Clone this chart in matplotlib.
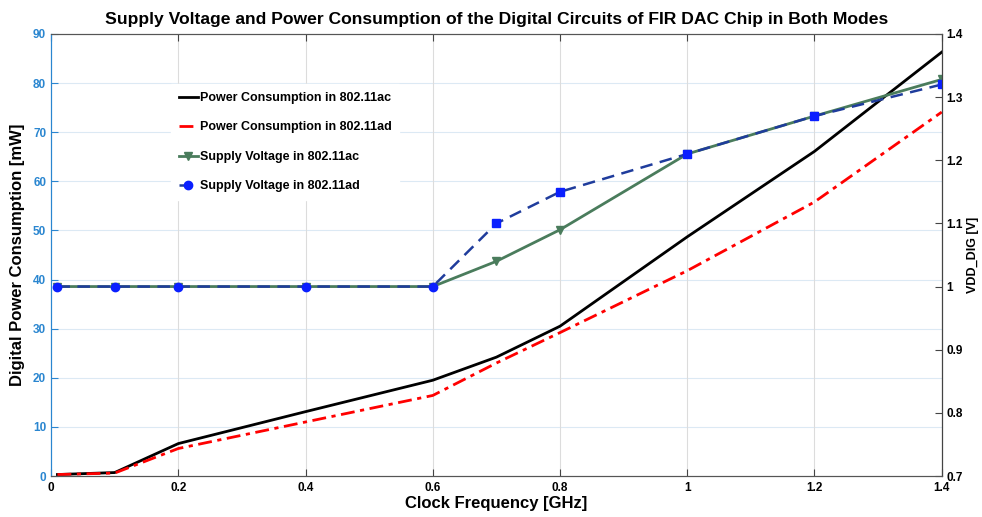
import matplotlib.pyplot as plt

# clock frequency points [GHz]
freq = [0.01, 0.1, 0.2, 0.4, 0.6, 0.7, 0.8, 1.0, 1.2, 1.4]

# digital power consumption [mW]
power_ac = [0.3, 0.7, 6.6, 13.1, 19.5, 24.2, 30.5, 48.7, 66.1, 86.3]
power_ad = [0.3, 0.6, 5.6, 11.0, 16.4, 23.0, 29.2, 41.8, 55.8, 74.1]

# supply voltage VDD_DIG [V]
vdd_ac = [1.0, 1.0, 1.0, 1.0, 1.0, 1.04, 1.09, 1.21, 1.27, 1.328]
vdd_ad = [1.0, 1.0, 1.0, 1.0, 1.0, 1.10, 1.15, 1.21, 1.27, 1.32]

xticks = [0, 0.2, 0.4, 0.6, 0.8, 1.0, 1.2, 1.4]
xtick_labels = ["0", "0.2", "0.4", "0.6", "0.8", "1", "1.2", "1.4"]
left_ticks = list(range(0, 91, 10))
right_ticks = [0.7, 0.8, 0.9, 1.0, 1.1, 1.2, 1.3, 1.4]
right_labels = ["0.7", "0.8", "0.9", "1", "1.1", "1.2", "1.3", "1.4"]

plt.rcParams["font.family"] = ["Liberation Sans", "DejaVu Sans"]
plt.rcParams["font.weight"] = "bold"

left_col = "#2a86d0"
green = "#4a7c5c"

fig = plt.figure(figsize=(9.82, 5.17), dpi=100)
ax = fig.add_axes([0.052, 0.0793, 0.907, 0.855])
ax2 = ax.twinx()

# power curves on the left axis
l1, = ax.plot(freq, power_ac, color="black", lw=2.0,
              label="Power Consumption in 802.11ac")
l2, = ax.plot(freq, power_ad, color="red", lw=2.0, ls=(0, (5, 2, 1.5, 2)),
              label="Power Consumption in 802.11ad")

# voltage curves on the right axis
l3, = ax2.plot(freq, vdd_ac, color=green, lw=2.0, marker="v", ms=6,
               mfc=green, mec=green, label="Supply Voltage in 802.11ac")
l4, = ax2.plot(freq, vdd_ad, color="#1f3c9c", lw=1.8, ls=(0, (5, 3)),
               marker="o", ms=6, mfc="#0a1fff", mec="#0a1fff",
               markevery=[0, 1, 2, 3, 4], label="Supply Voltage in 802.11ad")
ax2.plot(freq[5:], vdd_ad[5:], ls="none", marker="s", ms=6,
         mfc="#0a1fff", mec="#0a1fff")

ax.set_xlim(0, 1.4)
ax.set_ylim(0, 90)
ax2.set_ylim(0.7, 1.4)

ax.set_xticks(xticks)
ax.set_xticklabels(xtick_labels, fontsize=8.5, fontweight="bold")
ax.set_yticks(left_ticks)
ax.set_yticklabels([str(t) for t in left_ticks], fontsize=8.5,
                   fontweight="bold", color=left_col)
ax2.set_yticks(right_ticks)
ax2.set_yticklabels(right_labels, fontsize=8.5, fontweight="bold")

# grid: light blue horizontals, grey verticals
for t in left_ticks[1:-1]:
    ax.axhline(t, color="#dce9f4", lw=0.8, zorder=0)
for t in xticks[1:-1]:
    ax.axvline(t, color="#dcdcdc", lw=0.8, zorder=0)

ax.tick_params(axis="x", direction="in", top=True, length=5,
               color="#444444", pad=4)
ax.tick_params(axis="y", direction="in", length=5, color=left_col)
ax2.tick_params(axis="y", direction="in", length=5, color="#444444")

ax.spines["left"].set_color(left_col)
ax2.spines["left"].set_color(left_col)
for s in ["bottom", "top"]:
    ax.spines[s].set_color("#555555")
    ax2.spines[s].set_color("#555555")
ax2.spines["right"].set_color("#444444")

ax.set_xlabel("Clock Frequency [GHz]", fontsize=12, fontweight="bold",
              labelpad=2)
ax.set_ylabel("Digital Power Consumption [mW]", fontsize=12,
              fontweight="bold", labelpad=6)
ax2.set_ylabel("VDD_DIG [V]", fontsize=9, fontweight="bold")
ax2.yaxis.set_label_coords(1.028, 0.5)
ax.set_title("Supply Voltage and Power Consumption of the Digital Circuits "
             "of FIR DAC Chip in Both Modes", fontsize=12.6, fontweight="bold",
             pad=7)

leg = ax2.legend(handles=[l1, l2, l3, l4], loc="upper left",
                 bbox_to_anchor=(0.128, 0.9), frameon=True, fancybox=False,
                 edgecolor="white", facecolor="white", framealpha=1,
                 fontsize=9, handlelength=1.5, handletextpad=0.2,
                 labelspacing=1.4, borderpad=0.6)
for txt in leg.get_texts():
    txt.set_fontweight("bold")

fig.savefig("out.png", dpi=100)
